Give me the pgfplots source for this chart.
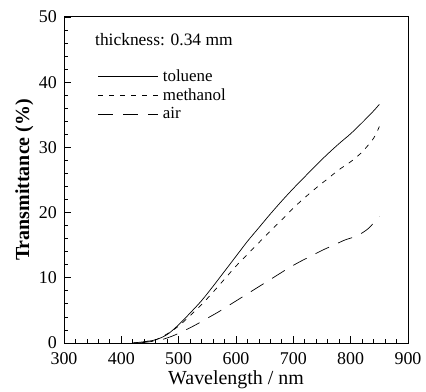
\documentclass[border=0pt]{standalone}
\usepackage{fontspec}
\setmainfont{Liberation Serif}
\usepackage{pgfplots}
\pgfplotsset{compat=1.18}
\begin{document}
\begin{tikzpicture}
\begin{axis}[
  width=344bp, height=326bp, scale only axis,
  xmin=300, xmax=900, ymin=0, ymax=50,
  xtick={300,400,...,900}, ytick={0,10,...,50},
  minor x tick num=4, minor y tick num=4,
  tick pos=left, tick align=inside,
  major tick length=7bp, minor tick length=4bp,
  axis line style={line width=1pt},
  every tick/.style={black, line width=0.8pt},
  /pgf/number format/assume math mode=true,
  ticklabel style={font=\fontsize{18}{20}\selectfont, inner sep=1bp},
  xticklabel style={yshift=-8.5bp},
  yticklabel style={xshift=-6bp},
  xlabel={Wavelength / nm},
  ylabel={\textbf{Transmittance (\%)}},
  xlabel style={font=\fontsize{20}{22}\selectfont, yshift=-1bp},
  ylabel style={font=\fontsize{20}{22}\selectfont, yshift=1bp},
  legend style={at={(rel axis cs:0.09,0.85)}, anchor=north west, draw=none, fill=none,
    font=\fontsize{17}{19}\selectfont, row sep=1.5bp},
  legend cell align=left,
  legend image code/.code={\draw[#1] (0bp,0bp) -- (60bp,0bp); \path (62bp,0bp);},
  clip=false,
]
\addplot[black, line width=0.7pt, smooth] coordinates {
(420,0) (440,0.2) (460,0.5) (480,1.3) (500,2.8) (520,4.6) (540,6.5) (560,8.7) (580,11.0)
(600,13.3) (620,15.6) (640,17.7) (660,19.8) (680,21.8) (700,23.7) (720,25.5) (740,27.3)
(760,29.0) (780,30.6) (800,32.1) (820,33.8) (840,35.6) (850,36.6)};
\addlegendentry{toluene}
\addplot[black, line width=0.7pt, smooth, dash pattern=on 5bp off 6bp] coordinates {
(420,0) (440,0.2) (460,0.5) (480,1.4) (500,2.6) (520,4.2) (540,5.9) (560,7.8) (580,9.8)
(600,11.8) (620,13.6) (640,15.4) (660,17.2) (680,18.9) (700,20.7) (720,22.3) (740,23.8)
(760,25.2) (780,26.6) (800,27.8) (820,29.3) (840,31.4) (850,33.2)};
\addlegendentry{methanol}
\addplot[black, line width=0.7pt, smooth, dash pattern=on 15bp off 10bp] coordinates {
(430,0) (450,0.2) (470,0.5) (490,1.1) (510,1.9) (530,2.8) (550,3.8) (570,4.8) (590,5.9)
(610,7.0) (630,8.1) (650,9.2) (670,10.3) (690,11.4) (710,12.4) (730,13.3) (750,14.2)
(770,15.0) (790,15.8) (810,16.4) (830,17.5) (850,19.4)};
\addlegendentry{air}
\node[anchor=west, font=\fontsize{17.5}{19}\selectfont, inner sep=0pt] at (rel axis cs:0.09,0.93) {thickness: 0.34 mm};
\end{axis}
\path ([shift={(-64bp,-49bp)}]current axis.south west) rectangle ([shift={(18bp,17bp)}]current axis.north east);
\end{tikzpicture}
\end{document}
